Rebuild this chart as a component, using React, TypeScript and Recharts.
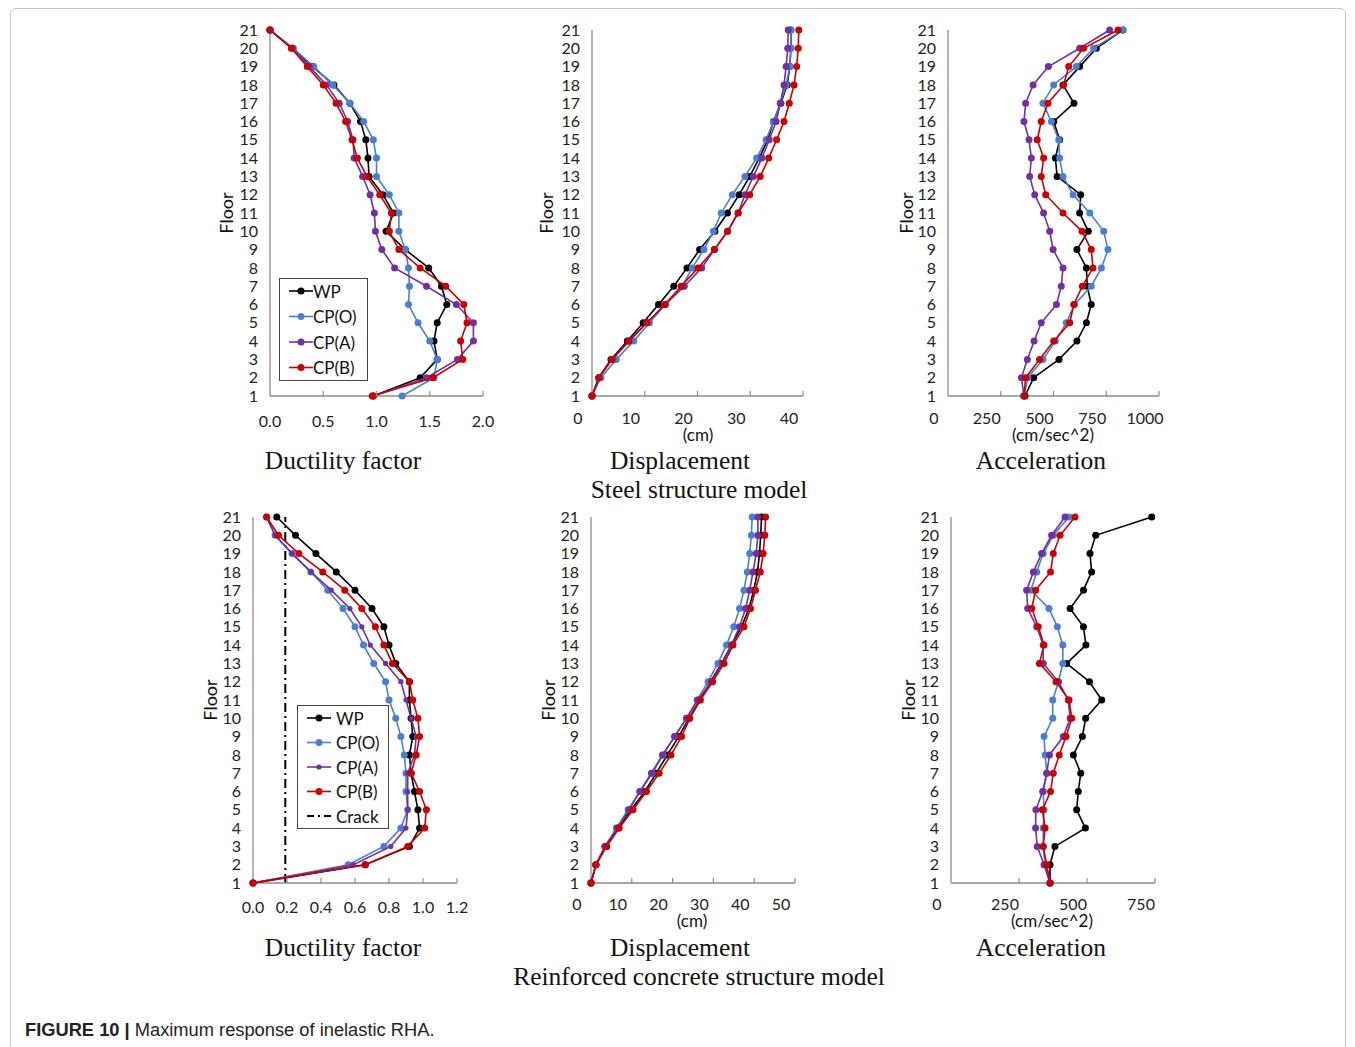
import React from 'react';
import { ScatterChart, Scatter, XAxis, YAxis, ReferenceLine } from 'recharts';

// floors listed from roof (21) down to base (1)
const FLOORS = [21, 20, 19, 18, 17, 16, 15, 14, 13, 12, 11, 10, 9, 8, 7, 6, 5, 4, 3, 2, 1];
const FLOOR_TICKS = [1, 2, 3, 4, 5, 6, 7, 8, 9, 10, 11, 12, 13, 14, 15, 16, 17, 18, 19, 20, 21];
const SERIES_NAMES = ['WP', 'CP(O)', 'CP(A)', 'CP(B)'];

// Steel structure model
const steelDuctWP = [0, 0.21, 0.4, 0.6, 0.75, 0.85, 0.9, 0.92, 0.93, 1.06, 1.16, 1.09, 1.27, 1.49, 1.61, 1.66, 1.57, 1.54, 1.57, 1.41, 0.97];
const steelDuctO = [0, 0.22, 0.41, 0.59, 0.75, 0.88, 0.97, 1.0, 1.0, 1.12, 1.21, 1.21, 1.27, 1.3, 1.31, 1.3, 1.39, 1.5, 1.57, 1.54, 1.24];
const steelDuctA = [0, 0.21, 0.37, 0.53, 0.65, 0.73, 0.78, 0.79, 0.87, 0.94, 0.98, 0.99, 1.05, 1.17, 1.47, 1.75, 1.91, 1.91, 1.76, 1.47, 0.97];
const steelDuctB = [0, 0.2, 0.35, 0.5, 0.62, 0.71, 0.77, 0.82, 0.91, 1.03, 1.14, 1.12, 1.21, 1.41, 1.65, 1.82, 1.85, 1.79, 1.81, 1.53, 0.96];

const steelDispWP = [37.7, 37.7, 37.5, 37.0, 35.8, 34.4, 33.3, 31.7, 29.9, 27.9, 25.7, 23.3, 20.4, 18.0, 15.5, 12.6, 9.7, 6.7, 3.6, 1.3, 0];
const steelDispO = [37.7, 37.7, 37.5, 36.8, 35.7, 34.4, 33.0, 31.2, 29.0, 26.6, 24.5, 23.0, 21.2, 19.0, 17.1, 13.9, 10.9, 7.9, 4.6, 1.7, 0];
const steelDispA = [37.2, 37.1, 36.8, 36.4, 35.7, 34.9, 33.6, 32.2, 30.6, 29.0, 27.7, 25.7, 23.2, 20.8, 17.5, 13.9, 10.4, 7.0, 3.8, 1.3, 0];
const steelDispB = [39.2, 39.1, 38.8, 38.3, 37.4, 36.4, 35.0, 33.5, 31.9, 29.9, 27.7, 25.7, 23.2, 20.1, 16.9, 13.8, 10.4, 7.0, 3.8, 1.3, 0];

const steelAccWP = [829, 703, 624, 545, 597, 501, 529, 509, 517, 629, 624, 665, 611, 656, 660, 679, 656, 611, 526, 406, 365];
const steelAccO = [829, 690, 608, 501, 450, 490, 525, 529, 545, 593, 672, 738, 758, 727, 679, 600, 561, 509, 450, 379, 360];
const steelAccA = [766, 624, 476, 403, 368, 360, 384, 395, 387, 411, 453, 482, 498, 545, 537, 514, 442, 408, 376, 348, 360];
const steelAccB = [806, 643, 572, 548, 474, 442, 423, 453, 442, 463, 545, 635, 679, 687, 637, 596, 577, 501, 434, 368, 360];

// Reinforced concrete structure model
const rcDuctWP = [0.14, 0.25, 0.37, 0.49, 0.6, 0.7, 0.77, 0.8, 0.84, 0.92, 0.92, 0.93, 0.94, 0.92, 0.93, 0.95, 0.97, 0.98, 0.92, 0.66, 0];
const rcDuctO = [0.08, 0.13, 0.23, 0.34, 0.44, 0.53, 0.6, 0.65, 0.71, 0.78, 0.8, 0.84, 0.87, 0.89, 0.9, 0.9, 0.91, 0.87, 0.77, 0.56, 0];
const rcDuctA = [0.08, 0.13, 0.23, 0.34, 0.46, 0.57, 0.64, 0.69, 0.78, 0.87, 0.9, 0.93, 0.96, 0.95, 0.91, 0.91, 0.91, 0.9, 0.81, 0.59, 0];
const rcDuctB = [0.08, 0.15, 0.27, 0.41, 0.54, 0.64, 0.72, 0.77, 0.82, 0.92, 0.94, 0.97, 0.98, 0.96, 0.93, 0.98, 1.02, 1.01, 0.91, 0.66, 0];
const CRACK_DUCTILITY = 0.19;

const rcDispWP = [41.8, 41.6, 41.3, 40.8, 39.9, 38.7, 36.9, 34.4, 32.0, 29.3, 26.7, 24.0, 21.5, 18.7, 16.0, 13.2, 9.8, 6.8, 3.8, 1.2, 0];
const rcDispO = [39.5, 39.3, 38.9, 38.3, 37.5, 36.4, 35.0, 33.2, 31.1, 28.7, 26.0, 23.4, 20.5, 17.7, 15.0, 12.0, 9.1, 6.2, 3.4, 1.2, 0];
const rcDispA = [40.9, 40.9, 40.5, 39.7, 38.9, 37.9, 36.4, 34.4, 32.2, 29.5, 26.2, 23.4, 20.5, 17.5, 14.8, 12.0, 9.3, 6.5, 3.4, 1.2, 0];
const rcDispB = [42.8, 42.6, 42.2, 41.5, 40.3, 39.1, 37.5, 34.8, 32.6, 29.8, 26.8, 24.2, 22.2, 19.6, 16.7, 13.6, 10.3, 6.9, 3.8, 1.2, 0];

const rcAccWP = [738, 532, 511, 517, 487, 438, 487, 496, 425, 509, 554, 495, 483, 450, 477, 468, 462, 494, 382, 364, 364];
const rcAccO = [434, 376, 339, 315, 294, 360, 391, 411, 411, 395, 374, 374, 342, 346, 352, 339, 342, 339, 339, 346, 364];
const rcAccA = [419, 370, 333, 303, 278, 282, 315, 339, 339, 395, 431, 438, 413, 362, 352, 337, 312, 311, 317, 342, 364];
const rcAccB = [456, 401, 376, 366, 311, 297, 321, 342, 325, 386, 434, 444, 423, 398, 376, 366, 336, 346, 339, 352, 364];

const DUCT_TICKS_STEEL = [0, 0.5, 1, 1.5, 2];
const DUCT_TICKS_RC = [0, 0.2, 0.4, 0.6, 0.8, 1, 1.2];
const DISP_TICKS_STEEL = [0, 10, 20, 30, 40];
const DISP_TICKS_RC = [0, 10, 20, 30, 40, 50];
const ACC_TICKS_STEEL = [0, 250, 500, 750, 1000];
const ACC_TICKS_RC = [0, 250, 500, 750];

const COLORS = ['#000000', '#4a7fcf', '#7030a0', '#c80000'];
const AXIS = '#8c8c8c';
const SANS = 'Lato, "Open Sans", sans-serif';
const SERIF = '"Liberation Serif", "Times New Roman", serif';

const YW = 60;
const PAD = 12;
const XH = 40;

type XTickProps = { x?: number; y?: number; payload?: { value: number }; digits: number; shift: number; gap: number };

const XTick = ({ x = 0, y = 0, payload, digits, shift, gap }: XTickProps) => {
  const v = payload ? payload.value : 0;
  return (
    <g>
      {v !== 0 && <line x1={x} x2={x} y1={y} y2={y - 5} stroke={AXIS} strokeWidth={1.2} />}
      <text x={x + shift} y={y + gap} textAnchor="middle" dominantBaseline="central" fontSize={16} fontFamily={SANS} fill="#222">
        {v.toFixed(digits)}
      </text>
    </g>
  );
};

type PanelProps = {
  left: number; right: number; top: number; bottom: number;
  ticks: number[]; digits: number; shift: number; gap: number;
  series: number[][]; radii?: number[]; crack?: number;
};

const Panel = ({ left, right, top, bottom, ticks, digits, shift, gap, series, radii = [3.5, 3.5, 3.5, 3.5], crack }: PanelProps) => {
  const w = right - left;
  const h = bottom - top;
  return (
    <div style={{ position: 'absolute', left: left - YW, top: top - PAD }}>
      <ScatterChart width={w + YW + PAD} height={h + PAD + XH} margin={{ top: PAD, right: PAD, bottom: 0, left: 0 }}>
        <XAxis
          type="number" dataKey="x" domain={[ticks[0], ticks[ticks.length - 1]]} ticks={ticks} interval={0}
          height={XH} tickSize={0} tickMargin={0} tickLine={false}
          axisLine={{ stroke: AXIS, strokeWidth: 1.3 }}
          tick={(p: any) => <XTick {...p} digits={digits} shift={shift} gap={gap} />}
        />
        <YAxis
          type="number" dataKey="y" domain={[1, 21]} ticks={FLOOR_TICKS} interval={0}
          width={YW} tickSize={0} tickMargin={12} tickLine={false}
          axisLine={{ stroke: AXIS, strokeWidth: 1.3 }}
          tick={{ fontSize: 16, fill: '#222', fontFamily: SANS }}
        />
        {crack !== undefined && (
          <ReferenceLine x={crack} stroke="#000" strokeWidth={2} strokeDasharray="9 4 2 4" />
        )}
        {series.map((vals, i) => (
          <Scatter
            key={SERIES_NAMES[i]}
            name={SERIES_NAMES[i]}
            data={FLOORS.map((f, j) => ({ x: vals[j], y: f }))}
            fill={COLORS[i]}
            line={{ stroke: COLORS[i], strokeWidth: 1.6 }}
            lineType="joint"
            shape={(p: any) => <circle cx={p.cx} cy={p.cy} r={radii[i]} fill={COLORS[i]} />}
            isAnimationActive={false}
          />
        ))}
      </ScatterChart>
    </div>
  );
};

type LegendProps = { left: number; top: number; width: number; rowH: number; firstY: number; lineX: number; textX: number; crack?: boolean; radii?: number[] };

const LegendBox = ({ left, top, width, rowH, firstY, lineX, textX, crack, radii = [3.5, 3.5, 3.5, 3.5] }: LegendProps) => {
  const rows = crack ? 5 : 4;
  const height = firstY * 2 + rowH * (rows - 1);
  return (
    <div style={{ position: 'absolute', left, top, width, height, border: '1px solid #444', background: '#fff', boxSizing: 'border-box' }}>
      <svg width={width} height={height} style={{ position: 'absolute', left: -1, top: -1 }}>
        {SERIES_NAMES.map((name, i) => {
          const cy = firstY + i * rowH;
          return (
            <g key={name}>
              <line x1={lineX} x2={lineX + 24} y1={cy} y2={cy} stroke={COLORS[i]} strokeWidth={1.6} />
              <circle cx={lineX + 12} cy={cy} r={radii[i]} fill={COLORS[i]} />
              <text x={textX} y={cy} dominantBaseline="central" fontSize={17} fontFamily={SANS} fill="#111">{name}</text>
            </g>
          );
        })}
        {crack && (
          <g>
            <line x1={lineX} x2={lineX + 24} y1={firstY + 4 * rowH} y2={firstY + 4 * rowH} stroke="#000" strokeWidth={2} strokeDasharray="7 4 2 4" />
            <text x={textX} y={firstY + 4 * rowH} dominantBaseline="central" fontSize={17} fontFamily={SANS} fill="#111">Crack</text>
          </g>
        )}
      </svg>
    </div>
  );
};

const App: React.FC = () => {
  return (
    <div style={{ position: 'absolute', left: 0, top: 0, width: 1355, height: 1047, background: '#fff', overflow: 'hidden' }}>
      <div style={{ position: 'absolute', left: 10, top: 8, width: 1336, height: 1060, border: '1px solid #c4c4c4', borderRadius: 6, boxSizing: 'border-box' }} />

      <svg width={1355} height={1047} style={{ position: 'absolute', left: 0, top: 0 }}>
        {/* axis titles */}
        {[[226, 213], [546, 213], [906, 213], [210, 700], [548, 700], [908, 700]].map(([cx, cy]) => (
          <text key={`${cx}-${cy}`} x={cx} y={cy} transform={`rotate(-90 ${cx} ${cy})`} textAnchor="middle" dominantBaseline="central" fontSize={18} fontFamily={SANS} fill="#111">Floor</text>
        ))}
        <text x={698} y={441} textAnchor="middle" fontSize={17} fontFamily={SANS} fill="#111">(cm)</text>
        <text x={1053} y={441} textAnchor="middle" fontSize={17} fontFamily={SANS} fill="#111">(cm/sec^2)</text>
        <text x={692} y={927} textAnchor="middle" fontSize={17} fontFamily={SANS} fill="#111">(cm)</text>
        <text x={1052} y={927} textAnchor="middle" fontSize={17} fontFamily={SANS} fill="#111">(cm/sec^2)</text>

        {/* panel titles */}
        <text x={343} y={469} textAnchor="middle" fontSize={25.5} fontFamily={SERIF} fill="#111">Ductility factor</text>
        <text x={680} y={469} textAnchor="middle" fontSize={25.5} fontFamily={SERIF} fill="#111">Displacement</text>
        <text x={1041} y={469} textAnchor="middle" fontSize={25.5} fontFamily={SERIF} fill="#111">Acceleration</text>
        <text x={699} y={498} textAnchor="middle" fontSize={25.5} fontFamily={SERIF} fill="#111">Steel structure model</text>
        <text x={343} y={956} textAnchor="middle" fontSize={25.5} fontFamily={SERIF} fill="#111">Ductility factor</text>
        <text x={680} y={956} textAnchor="middle" fontSize={25.5} fontFamily={SERIF} fill="#111">Displacement</text>
        <text x={1041} y={956} textAnchor="middle" fontSize={25.5} fontFamily={SERIF} fill="#111">Acceleration</text>
        <text x={699} y={985} textAnchor="middle" fontSize={25.5} fontFamily={SERIF} fill="#111">Reinforced concrete structure model</text>

        <text x={25} y={1036} fontSize={18.3} fontFamily='"Liberation Sans", Arial, sans-serif' fill="#222">
          <tspan fontWeight="bold">FIGURE 10 | </tspan>
          <tspan>Maximum response of inelastic RHA.</tspan>
        </text>
      </svg>

      <Panel left={270} right={483} top={30} bottom={396} ticks={DUCT_TICKS_STEEL} digits={1} shift={0} gap={24}
        series={[steelDuctWP, steelDuctO, steelDuctA, steelDuctB]} />
      <Panel left={592} right={803} top={30} bottom={396} ticks={DISP_TICKS_STEEL} digits={0} shift={-14} gap={21}
        series={[steelDispWP, steelDispO, steelDispA, steelDispB]} />
      <Panel left={948} right={1159} top={30} bottom={396} ticks={ACC_TICKS_STEEL} digits={0} shift={-14} gap={21}
        series={[steelAccWP, steelAccO, steelAccA, steelAccB]} />

      <Panel left={253} right={457} top={517} bottom={883} ticks={DUCT_TICKS_RC} digits={1} shift={0} gap={23}
        series={[rcDuctWP, rcDuctO, rcDuctA, rcDuctB]} radii={[3.5, 3.5, 2.6, 3.5]} crack={CRACK_DUCTILITY} />
      <Panel left={591} right={795} top={517} bottom={883} ticks={DISP_TICKS_RC} digits={0} shift={-14} gap={20}
        series={[rcDispWP, rcDispO, rcDispA, rcDispB]} />
      <Panel left={951} right={1155} top={517} bottom={883} ticks={ACC_TICKS_RC} digits={0} shift={-14} gap={20}
        series={[rcAccWP, rcAccO, rcAccA, rcAccB]} />

      <LegendBox left={279} top={278} width={89} rowH={25.5} firstY={13} lineX={10} textX={34} />
      <LegendBox left={297} top={705} width={92} rowH={24.5} firstY={13} lineX={10} textX={39} crack radii={[3.5, 3.5, 2.6, 3.5]} />
    </div>
  );
};

export default App;
